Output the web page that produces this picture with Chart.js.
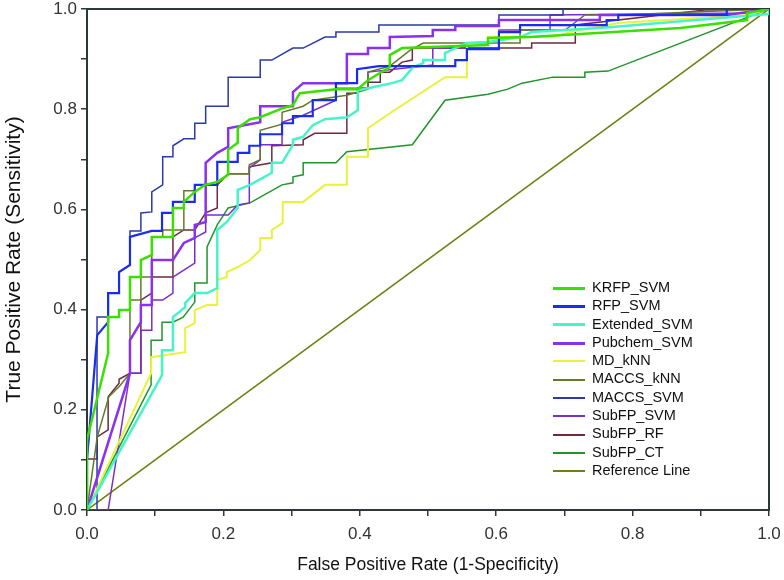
<!DOCTYPE html>
<html>
<head>
<meta charset="utf-8">
<script src="https://cdn.jsdelivr.net/npm/chart.js@4.4.1/dist/chart.umd.min.js"></script>
<style>
    html, body { margin: 0; padding: 0; background: #fff; }
    #wrap { position: relative; width: 784px; height: 580px; }
    #legend {
        position: absolute; left: 553px; top: 278px;
        font-family: "Liberation Sans", Arial, sans-serif; font-size: 14.5px; color: #111;
    }
    #legend .row { height: 18.3px; line-height: 18.3px; white-space: nowrap; }
    #legend .sw { display: inline-block; width: 32px; height: 0; vertical-align: middle; margin-right: 7px; }
</style>
</head>
<body>
<div id="wrap">
    <canvas id="roc" width="784" height="580"></canvas>
    <div id="legend"></div>
</div>
<script>
// ROC curves, points are [false positive rate, true positive rate]
const krfpSvm = [[0,0],[0,0.14],[0.031,0.313],[0.031,0.385],[0.047,0.385],[0.047,0.399],[0.063,0.399],[0.063,0.465],[0.079,0.465],[0.079,0.499],[0.095,0.509],[0.095,0.545],[0.126,0.545],[0.126,0.603],[0.142,0.603],[0.142,0.615],[0.158,0.635],[0.173,0.649],[0.191,0.655],[0.207,0.669],[0.207,0.719],[0.221,0.733],[0.221,0.762],[0.239,0.780],[0.254,0.784],[0.287,0.802],[0.302,0.808],[0.312,0.832],[0.365,0.840],[0.397,0.840],[0.412,0.858],[0.444,0.884],[0.444,0.908],[0.462,0.922],[0.588,0.928],[0.588,0.942],[0.650,0.944],[0.870,0.962],[0.968,0.978],[0.968,0.992],[1,1]];
const rfpSvm = [[0,0],[0,0.1],[0.015,0.349],[0.031,0.375],[0.031,0.433],[0.047,0.433],[0.047,0.475],[0.063,0.489],[0.063,0.545],[0.095,0.557],[0.110,0.557],[0.110,0.593],[0.126,0.593],[0.126,0.615],[0.158,0.615],[0.158,0.649],[0.191,0.649],[0.191,0.695],[0.221,0.695],[0.221,0.713],[0.238,0.713],[0.238,0.727],[0.254,0.727],[0.254,0.750],[0.286,0.750],[0.286,0.772],[0.302,0.772],[0.302,0.786],[0.331,0.786],[0.331,0.818],[0.365,0.818],[0.365,0.852],[0.396,0.852],[0.396,0.880],[0.428,0.886],[0.540,0.886],[0.540,0.898],[0.557,0.898],[0.557,0.920],[0.604,0.920],[0.604,0.954],[0.635,0.954],[0.635,0.968],[0.762,0.968],[0.762,0.978],[0.779,0.978],[0.779,0.988],[0.938,0.988],[0.938,1],[1,1]];
const extendedSvm = [[0,0],[0.110,0.269],[0.110,0.319],[0.126,0.319],[0.126,0.385],[0.144,0.405],[0.144,0.413],[0.158,0.433],[0.176,0.433],[0.191,0.443],[0.191,0.559],[0.205,0.575],[0.221,0.603],[0.221,0.639],[0.239,0.649],[0.271,0.673],[0.271,0.693],[0.286,0.693],[0.302,0.729],[0.302,0.739],[0.317,0.745],[0.331,0.768],[0.349,0.780],[0.381,0.784],[0.397,0.798],[0.397,0.838],[0.412,0.842],[0.447,0.852],[0.462,0.858],[0.478,0.884],[0.493,0.892],[0.493,0.898],[0.525,0.898],[0.525,0.912],[0.540,0.922],[0.557,0.932],[0.588,0.934],[0.635,0.944],[0.652,0.954],[0.752,0.962],[1,0.990],[1,1]];
const pubchemSvm = [[0,0],[0.063,0.273],[0.063,0.339],[0.079,0.375],[0.079,0.409],[0.095,0.409],[0.095,0.499],[0.126,0.499],[0.142,0.533],[0.158,0.543],[0.158,0.569],[0.174,0.575],[0.174,0.693],[0.191,0.713],[0.207,0.725],[0.207,0.762],[0.254,0.774],[0.254,0.806],[0.302,0.806],[0.302,0.834],[0.317,0.852],[0.381,0.852],[0.381,0.910],[0.412,0.910],[0.412,0.922],[0.444,0.922],[0.444,0.944],[0.507,0.946],[0.507,0.958],[0.540,0.958],[0.540,0.966],[0.604,0.966],[0.604,0.978],[0.752,0.978],[0.752,0.988],[0.938,0.988],[1,1]];
const mdKnn = [[0,0],[0.094,0.273],[0.094,0.305],[0.144,0.315],[0.144,0.363],[0.158,0.373],[0.158,0.399],[0.176,0.409],[0.191,0.409],[0.191,0.459],[0.205,0.465],[0.205,0.475],[0.221,0.485],[0.239,0.499],[0.254,0.519],[0.254,0.543],[0.271,0.543],[0.271,0.559],[0.287,0.573],[0.287,0.615],[0.317,0.615],[0.349,0.649],[0.381,0.649],[0.381,0.705],[0.412,0.705],[0.412,0.762],[0.444,0.792],[0.525,0.864],[0.557,0.864],[0.557,0.932],[0.588,0.934],[0.588,0.944],[0.683,0.944],[0.716,0.956],[0.779,0.972],[0.969,0.988],[1,1]];
const maccsKnn = [[0,0],[0.015,0.146],[0.032,0.226],[0.047,0.246],[0.063,0.273],[0.063,0.419],[0.079,0.419],[0.079,0.465],[0.095,0.465],[0.095,0.545],[0.111,0.545],[0.111,0.559],[0.142,0.559],[0.142,0.637],[0.158,0.637],[0.158,0.649],[0.191,0.649],[0.207,0.671],[0.238,0.671],[0.238,0.689],[0.254,0.699],[0.254,0.758],[0.286,0.770],[0.286,0.794],[0.317,0.806],[0.331,0.818],[0.381,0.828],[0.412,0.840],[0.412,0.874],[0.444,0.886],[0.474,0.918],[0.493,0.932],[0.635,0.932],[0.635,0.958],[0.701,0.958],[0.730,0.988],[0.779,0.988],[1,1]];
const maccsSvm = [[0,0],[0.0147,0],[0.0147,0.385],[0.031,0.385],[0.031,0.433],[0.047,0.433],[0.047,0.475],[0.063,0.489],[0.063,0.557],[0.079,0.557],[0.079,0.593],[0.095,0.595],[0.095,0.635],[0.111,0.649],[0.111,0.705],[0.126,0.705],[0.126,0.727],[0.142,0.741],[0.158,0.741],[0.158,0.772],[0.174,0.772],[0.174,0.806],[0.207,0.806],[0.207,0.864],[0.254,0.864],[0.254,0.898],[0.271,0.898],[0.302,0.922],[0.317,0.922],[0.349,0.944],[0.365,0.944],[0.365,0.954],[0.428,0.954],[0.428,0.968],[0.604,0.968],[0.604,0.988],[0.698,0.988],[0.698,1],[1,1]];
const subfpSvm = [[0,0],[0.031,0],[0.063,0.273],[0.079,0.273],[0.079,0.359],[0.095,0.359],[0.095,0.419],[0.111,0.419],[0.126,0.433],[0.126,0.465],[0.142,0.479],[0.158,0.493],[0.158,0.543],[0.174,0.555],[0.174,0.589],[0.207,0.589],[0.221,0.609],[0.238,0.613],[0.238,0.683],[0.254,0.699],[0.254,0.729],[0.286,0.729],[0.286,0.774],[0.317,0.788],[0.365,0.818],[0.365,0.842],[0.412,0.842],[0.412,0.874],[0.507,0.888],[0.507,0.922],[0.604,0.922],[0.604,0.958],[0.679,0.958],[0.679,0.988],[0.968,0.992],[1,1]];
const subfpRf = [[0,0],[0,0.102],[0.015,0.102],[0.015,0.146],[0.031,0.160],[0.031,0.226],[0.047,0.253],[0.047,0.261],[0.063,0.273],[0.079,0.273],[0.079,0.419],[0.095,0.433],[0.095,0.465],[0.126,0.465],[0.126,0.545],[0.142,0.559],[0.158,0.559],[0.174,0.593],[0.191,0.603],[0.191,0.649],[0.207,0.671],[0.238,0.671],[0.238,0.685],[0.271,0.693],[0.271,0.727],[0.317,0.729],[0.317,0.739],[0.334,0.752],[0.381,0.752],[0.381,0.832],[0.397,0.832],[0.397,0.842],[0.412,0.842],[0.412,0.854],[0.430,0.854],[0.430,0.874],[0.444,0.874],[0.462,0.894],[0.477,0.898],[0.477,0.922],[0.652,0.922],[0.652,0.932],[0.716,0.932],[0.716,0.968],[0.906,0.998],[1,1]];
const subfpCt = [[0,0],[0.094,0.250],[0.094,0.339],[0.110,0.339],[0.110,0.375],[0.126,0.375],[0.141,0.385],[0.158,0.415],[0.158,0.453],[0.176,0.453],[0.176,0.525],[0.191,0.569],[0.207,0.603],[0.239,0.613],[0.286,0.649],[0.302,0.653],[0.302,0.665],[0.317,0.669],[0.317,0.693],[0.365,0.693],[0.381,0.715],[0.477,0.729],[0.525,0.818],[0.588,0.830],[0.617,0.840],[0.638,0.852],[0.683,0.864],[0.730,0.864],[0.730,0.874],[0.764,0.876],[1,1]];
const referenceLine = [[0,0],[1,1]];

const seriesLabels = ['KRFP_SVM', 'RFP_SVM', 'Extended_SVM', 'Pubchem_SVM', 'MD_kNN', 'MACCS_kNN', 'MACCS_SVM', 'SubFP_SVM', 'SubFP_RF', 'SubFP_CT', 'Reference Line'];
const seriesData = [krfpSvm, rfpSvm, extendedSvm, pubchemSvm, mdKnn, maccsKnn, maccsSvm, subfpSvm, subfpRf, subfpCt, referenceLine];
const seriesColors = ['#3be000', '#1a2cf0', '#45f5c8', '#8a30f0', '#e8f23a', '#66782c', '#2a3aa8', '#7a2ec8', '#6e2a3c', '#21952a', '#6f7f10'];
const seriesWidths = [2.5, 2.2, 2.5, 2.5, 2, 1.5, 1.5, 1.5, 1.5, 1.5, 1.5];
const axisTicks = [0, 0.2, 0.4, 0.6, 0.8, 1.0];

const axisColor = '#2e3838';
const fontFamily = '"Liberation Sans", Arial, sans-serif';

// Box around the plot area (top and right sides too)
const frame = {
    id: 'frame',
    beforeDatasetsDraw(chart) {
        const { ctx, chartArea: a } = chart;
        ctx.save();
        ctx.strokeStyle = axisColor;
        ctx.lineWidth = 2;
        ctx.strokeRect(a.left, a.top, a.right - a.left, a.bottom - a.top);
        ctx.restore();
    }
};

const datasets = seriesData.map((pts, i) => ({
    label: seriesLabels[i],
    data: pts.map(p => ({ x: p[0], y: p[1] })),
    borderColor: seriesColors[i],
    backgroundColor: seriesColors[i],
    borderWidth: seriesWidths[i],
    showLine: true,
    pointRadius: 0,
    tension: 0,
    fill: false,
}));

function tickLabel(v) {
    const isMajor = axisTicks.some(t => Math.abs(t - v) < 1e-6);
    return isMajor ? v.toFixed(1) : '';
}

const ctx = document.getElementById('roc').getContext('2d');
new Chart(ctx, {
    type: 'scatter',
    data: { datasets },
    plugins: [frame],
    options: {
        responsive: false,
        animation: false,
        layout: { padding: { left: 0, right: 15, top: 9, bottom: 0 } },
        plugins: { legend: { display: false }, tooltip: { enabled: false } },
        scales: {
            x: {
                type: 'linear', min: 0, max: 1,
                afterFit: (s) => { s.height = 70; s.paddingLeft = 0; s.paddingRight = 0; },
                ticks: { stepSize: 0.1, callback: tickLabel, color: '#333', font: { family: fontFamily, size: 17 }, padding: 8, maxRotation: 0, autoSkip: false },
                grid: { drawOnChartArea: false, drawTicks: true, tickLength: 6, color: axisColor, lineWidth: 1.5 },
                border: { color: axisColor, width: 2 },
                title: { display: true, text: 'False Positive Rate (1-Specificity)', color: '#111', font: { family: fontFamily, size: 17.5 }, padding: { top: 4, bottom: 4 } },
            },
            y: {
                type: 'linear', min: 0, max: 1,
                afterFit: (s) => { s.width = 87; s.paddingTop = 0; s.paddingBottom = 0; },
                ticks: { stepSize: 0.1, callback: tickLabel, color: '#333', font: { family: fontFamily, size: 17 }, padding: 4, autoSkip: false },
                grid: { drawOnChartArea: false, drawTicks: true, tickLength: 6, color: axisColor, lineWidth: 1.5 },
                border: { color: axisColor, width: 2 },
                title: { display: true, text: 'True Positive Rate (Sensitivity)', color: '#111', font: { family: fontFamily, size: 21 }, padding: { top: 2, bottom: 2 } },
            },
        },
    },
});

// Legend inside the plot, lower right
const legendBox = document.getElementById('legend');
seriesLabels.forEach((name, i) => {
    const row = document.createElement('div');
    row.className = 'row';
    row.innerHTML = `<span class="sw" style="border-top:${seriesWidths[i] > 2 ? 3 : 2}px solid ${seriesColors[i]}"></span>${name}`;
    legendBox.appendChild(row);
});
</script>
</body>
</html>
